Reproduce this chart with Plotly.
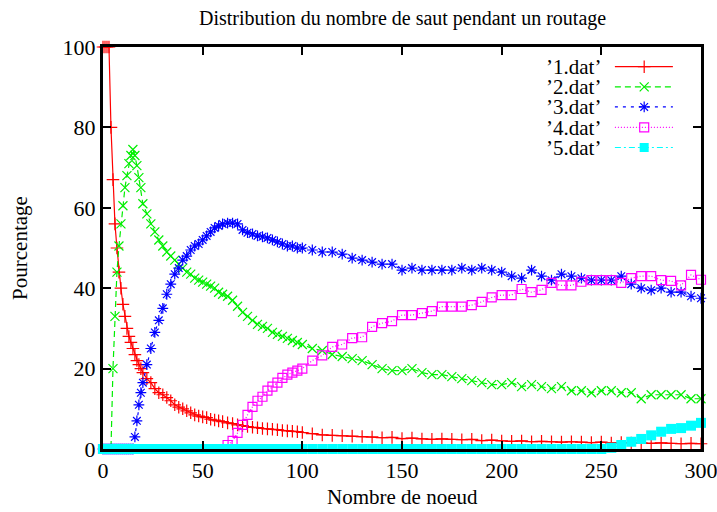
import plotly.graph_objects as go

# ---------------- data ----------------
x_nodes = (list(range(0, 21)) + list(range(22, 61, 2)) +
           [62.5, 65, 67.5, 70, 72.5, 75, 77.5, 80, 82.5, 85, 87.5, 90, 92.5, 95, 97.5, 100] +
           list(range(105, 301, 5)))

s1 = [100, 100, 100, 100, 80, 67, 56, 50, 44, 40, 36, 33, 30, 28, 26.5, 25, 23.5, 22, 21, 20, 19,
      17.5, 16.5, 15, 14, 13.5, 12.8, 12, 11, 10.4, 10, 9.5, 9, 8.5, 8.2, 8, 7.8, 7.4, 7.2, 7, 6.8,
      6.5, 6.3, 6, 5.8, 5.6, 5.4, 5.3, 5.1, 5, 4.9, 4.8, 4.6, 4.5, 4.4, 4.3, 4.1,
      3.8, 3.5, 3.4, 3.3, 3.2, 3.1, 3.0, 2.8, 2.9, 2.6, 2.7, 2.5, 2.4, 2.5, 2.4, 2.3, 2.4, 2.1, 2.2, 2.0,
      1.9, 2.0, 1.8, 1.9, 1.8, 1.7, 1.8, 1.7, 1.6, 1.7, 1.5, 1.6, 1.5, 1.5, 1.4, 1.5, 1.4, 1.3, 1.4, 1.3]

s2 = [0, 0, 0, 0, 0, 20, 33, 44, 50.5, 56, 60.5, 65, 68, 71, 73, 74.5, 73, 70.5, 67.5, 65, 61,
      58.5, 56, 54, 52, 50.5, 49, 48, 47, 46, 45, 44, 43.5, 42.5, 42, 41.5, 41, 40.5, 40, 39, 38.5,
      38, 37, 35.5, 34, 33, 32, 31, 30.5, 30, 29, 28.5, 28, 27.5, 27, 26.5, 26,
      25, 24.5, 23.5, 23, 22.5, 22, 21, 20, 19.5, 19.5, 20, 19, 18.5, 18.5, 18, 17.5, 17, 16.5, 16, 16,
      16.5, 15.5, 16, 15.5, 15, 15.5, 14.5, 14.5, 14, 14.5, 14.5, 14, 14, 12.5, 13.5, 13.5, 13.5, 13.5, 12.5, 12.5]

s3 = [0, 0, 0, 0, 0, 0, 0, 0, 0, 0, 0, 0, 0, 0, 0, 0, 3, 7, 11, 14, 16.5,
      21, 25, 29, 32, 35, 38.5, 41, 43.5, 45, 47, 48, 49.5, 50.5, 51, 52, 53, 54, 55, 55.5, 56,
      56.2, 56.2, 56, 54.5, 53.8, 53.5, 53, 52.8, 52.5, 52, 51.5, 51, 50.5, 50.5, 50, 50,
      49.5, 49, 49, 48.5, 47.5, 47, 46.5, 46, 46, 44.5, 45, 44.5, 44.5, 44.5, 44.5, 45, 44.5, 45, 44.5, 44,
      43, 42.5, 44.5, 43, 42, 43.5, 43, 42.5, 42, 42, 42, 43, 41, 40, 39.5, 40, 39, 39, 38, 37.5]

s4 = [0] * 41 + [1, 2, 4, 6, 8.5, 10.5, 12, 13, 14.5, 15.5, 16.5, 17.7, 18.5, 19, 19.5, 20,
                 22, 23.3, 25.4, 26, 27.6, 27.8, 30.4, 31.3, 31.8, 33.3, 33.3, 33.8, 34.3, 35.4, 35.4, 35.4,
                 35.8, 36.6, 37.7, 38.3, 38.3, 39.8, 39, 39.6, 41.3, 40.7, 40.7, 41.6, 42, 42, 42, 41.3,
                 42.5, 43, 43, 42, 41.8, 40.7, 43.3, 42.1]

s5 = [0] * 87 + [0.3, 1.0, 1.8, 2.5, 3.4, 4.3, 5.0, 5.2, 5.8, 6.5]

series_names = ["’1.dat’", "’2.dat’", "’3.dat’", "’4.dat’", "’5.dat’"]
series_values = [s1, s2, s3, s4, s5]
colors = ["#ff0000", "#00ee00", "#0000ff", "#ff00ff", "#00ffff"]
dashes = ["solid", "6px,4px", "3px,5px", "1px,2px", "6px,3px,2px,3px"]
symbols = ["cross-thin-open", "x-thin-open", "asterisk-open", "square-open", "square"]
sizes = [9, 9, 9, 9, 10]

x_ticks = [0, 50, 100, 150, 200, 250, 300]
y_ticks = [0, 20, 40, 60, 80, 100]

# legend key layout (plot-area fractions)
leg_rows = [0.951, 0.901, 0.851, 0.800, 0.750]
leg_line = [0.856, 0.953]
leg_mark = 0.905
leg_text_x = 0.834

FONT = "Liberation Serif"

fig = go.Figure()
for name, vals, c, d, sym, sz in zip(series_names, series_values, colors, dashes, symbols, sizes):
    filled = sym == "square"
    fig.add_trace(go.Scatter(
        x=x_nodes, y=vals, mode="lines+markers", name=name, showlegend=False,
        cliponaxis=False,
        line=dict(color=c, width=1.2, dash=d),
        marker=dict(symbol=sym, size=sz, color=c,
                    line=dict(color=c, width=1.2 if not filled else 0)),
    ))

# custom gnuplot-style key (text left of the sample)
for i, (name, c, d, sym) in enumerate(zip(series_names, colors, dashes, symbols)):
    filled = sym == "square"
    fig.add_trace(go.Scatter(
        x=leg_line, y=[leg_rows[i]] * 2, xaxis="x2", yaxis="y2", mode="lines",
        showlegend=False, hoverinfo="skip", line=dict(color=c, width=1.2, dash=d)))
    fig.add_trace(go.Scatter(
        x=[leg_mark], y=[leg_rows[i]], xaxis="x2", yaxis="y2", mode="markers",
        showlegend=False, hoverinfo="skip",
        marker=dict(symbol=sym, size=9, color=c,
                    line=dict(color=c, width=1.2 if not filled else 0))))
    fig.add_annotation(x=leg_text_x, y=leg_rows[i], xref="paper", yref="paper",
                       text=name, showarrow=False, xanchor="right", yanchor="middle",
                       borderpad=0, height=19, valign="middle",
                       font=dict(family=FONT, size=21, color="black"))

# axis titles and main title as annotations for exact placement
fig.add_annotation(x=0.5, y=-0.119, xref="paper", yref="paper", text="Nombre de noeud",
                   showarrow=False, xanchor="center", yanchor="middle", borderpad=0,
                   font=dict(family=FONT, size=21, color="black"))
fig.add_annotation(x=-0.139, y=0.5, xref="paper", yref="paper", text="Pourcentage",
                   showarrow=False, xanchor="center", yanchor="middle", textangle=-90,
                   borderpad=0, font=dict(family=FONT, size=21, color="black"))
fig.add_annotation(x=0.5, y=1.072, xref="paper", yref="paper",
                   text="Distribution du nombre de saut pendant un routage",
                   showarrow=False, xanchor="center", yanchor="middle", borderpad=0,
                   font=dict(family=FONT, size=20, color="black"))

axis_common = dict(showline=True, linecolor="black", linewidth=3, mirror="allticks",
                   ticks="inside", ticklen=8, tickwidth=2, tickcolor="black",
                   showgrid=False, zeroline=False, automargin=False,
                   ticklabeloverflow="allow",
                   tickfont=dict(family=FONT, size=22, color="black"))

fig.update_layout(
    width=717, height=512,
    margin=dict(l=103, r=16, t=47, b=63),
    paper_bgcolor="white", plot_bgcolor="white",
    xaxis=dict(range=[0, 300], tickvals=x_ticks, ticktext=[str(v) for v in x_ticks], **axis_common),
    yaxis=dict(range=[0, 100], tickvals=y_ticks, ticktext=[str(v) for v in y_ticks], **axis_common),
    xaxis2=dict(overlaying="x", range=[0, 1], visible=False),
    yaxis2=dict(overlaying="y", range=[0, 1], visible=False),
)

# remove the page's default body margin and scrollbars so the figure fills the window
fig.write_html("out.html", config={"displayModeBar": False},
               post_script="document.body.style.margin='0';document.body.style.overflow='hidden';")
